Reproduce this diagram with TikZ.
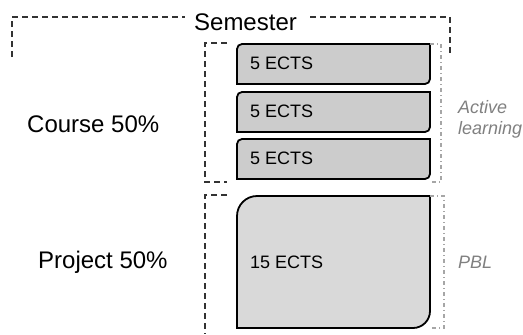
\documentclass[tikz,border=0pt]{standalone}
\usepackage{fontspec}
\setmainfont{Liberation Sans}
\begin{document}
\begin{tikzpicture}[x=1bp,y=-1bp,
  bracket/.style={draw=black!80, line width=1.2bp, dash pattern=on 6bp off 4bp},
  sidebar/.style={draw=black!35, line width=1.1bp, dash pattern=on 4bp off 3bp on 1bp off 3bp},
  unit/.style={draw=black, line width=1.8bp, fill=black!20},
  bigunit/.style={draw=black, line width=1.8bp, fill=black!15},
  lbl/.style={inner sep=0pt, anchor=base west},
  bigtxt/.style={lbl, font=\fontsize{24bp}{28bp}\selectfont},
  ectstxt/.style={lbl, font=\fontsize{18bp}{21bp}\selectfont},
  notetxt/.style={lbl, text=black!50, font=\fontsize{18bp}{21bp}\selectfont\itshape}]
\useasboundingbox (0,0) rectangle (523,334);

% Semester bracket
\node[inner sep=0pt, anchor=base, font=\fontsize{24bp}{28bp}\selectfont] (sem) at (245.5,30) {Semester};
\draw[bracket] (12,57) -- (12,17) -- (185,17);
\draw[bracket] (310,17) -- (450,17) -- (450,57);

% Course and project brackets
\draw[bracket] (227,43) -- (205,43) -- (205,182) -- (227,182);
\draw[bracket] (227,195) -- (205,195) -- (205,334);

% Course units: rounded top-left and bottom-right corners
\foreach \y/\n in {44/u1, 92/u2, 139/u3} {
  \draw[unit] (237,\y+40) -- (237,\y+5) arc[start angle=180, end angle=270, radius=5]
    -- (430,\y) -- (430,\y+35) arc[start angle=0, end angle=90, radius=5] -- cycle;
  \node[ectstxt] (\n) at (250,\y+25.5) {5 ECTS};
}

% Project unit
\draw[bigunit] (237,328) -- (237,216) arc[start angle=180, end angle=270, radius=20]
  -- (430,196) -- (430,311) arc[start angle=0, end angle=90, radius=17] -- cycle;
\node[ectstxt] (u4) at (250,268) {15 ECTS};

% Side markers
\draw[sidebar] (430,44) -- (441,44) -- (441,182) -- (430,182);
\draw[sidebar] (430,196) -- (444,196) -- (444,328) -- (430,328);

% Labels
\node[bigtxt] (course) at (27,132) {Course 50\%};
\node[bigtxt] (project) at (38,268) {Project 50\%};
\node[notetxt] (active) at (458,113) {Active};
\node[notetxt] (learning) at (458,134) {learning};
\node[notetxt] (pbl) at (458,268) {PBL};
\end{tikzpicture}
\end{document}
